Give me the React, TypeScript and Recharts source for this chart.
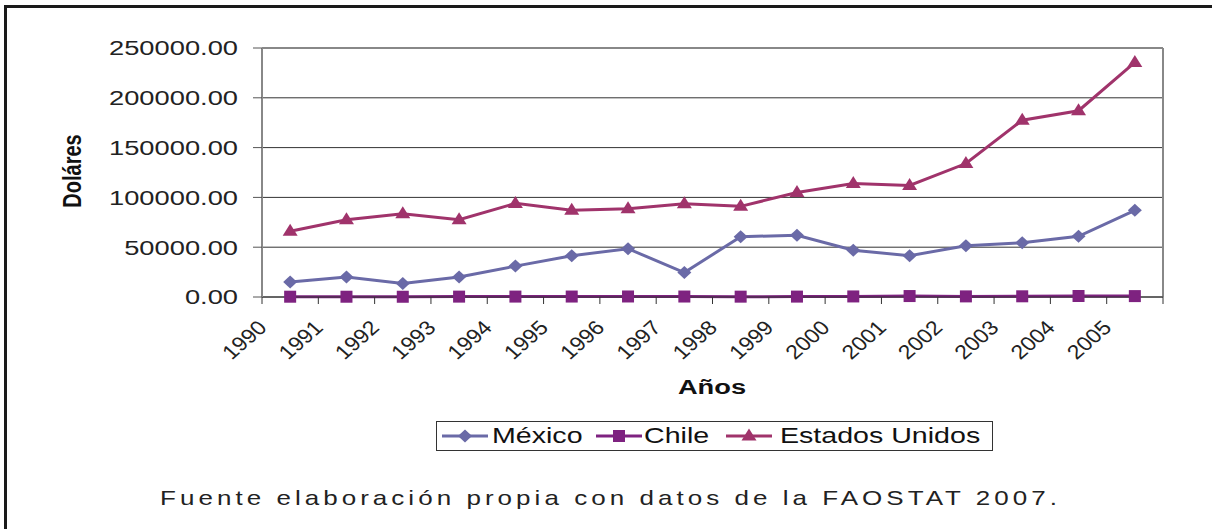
import React from "react";
import { LineChart, Line, XAxis, YAxis, CartesianGrid, ReferenceLine } from "recharts";

// years shown on the category axis
const years = ["1990", "1991", "1992", "1993", "1994", "1995", "1996", "1997", "1998", "1999", "2000", "2001", "2002", "2003", "2004", "2005"];

// dollars per country
const mexico = [15000, 20000, 13500, 20000, 31000, 41500, 48500, 24500, 60500, 62000, 47000, 41500, 51500, 54500, 61000, 87000];
const chile = [300, 280, 250, 380, 420, 460, 520, 480, 350, 400, 560, 950, 610, 700, 1000, 900];
const eeuu = [66000, 77500, 83500, 77500, 94000, 87000, 88500, 93500, 91000, 105000, 114000, 112000, 134000, 177500, 187000, 235500];

const yTicks = [0, 50000, 100000, 150000, 200000, 250000];

const COLORS = { mexico: "#6A6AA7", chile: "#7E2280", eeuu: "#A0336B" };
const FONT = "'Liberation Sans', Arial, sans-serif";

// points sit in the middle of each year slot, ticks on the slot edges
const data = years.map((year, i) => ({
    pos: i + 0.5,
    year,
    mexico: mexico[i],
    chile: chile[i],
    eeuu: eeuu[i],
}));
const xTicks = Array.from({ length: years.length + 1 }, (_, i) => i);

const legendItems = [
    { name: "México", color: COLORS.mexico, marker: "diamond", iconX: 442, textX: 492 },
    { name: "Chile", color: COLORS.chile, marker: "square", iconX: 596, textX: 644 },
    { name: "Estados Unidos", color: COLORS.eeuu, marker: "triangle", iconX: 726, textX: 780 },
];

function Marker({ type, cx, cy, color }: { type: string; cx: number; cy: number; color: string }) {
    if (type === "diamond") {
        return <polygon points={`${cx},${cy - 6.5} ${cx + 7},${cy} ${cx},${cy + 6.5} ${cx - 7},${cy}`} fill={color} />;
    }
    if (type === "square") {
        return <rect x={cx - 6} y={cy - 6} width={12} height={12} fill={color} />;
    }
    return <polygon points={`${cx},${cy - 7.5} ${cx + 7.5},${cy + 4.5} ${cx - 7.5},${cy + 4.5}`} fill={color} />;
}

const dotFor = (type: string, color: string) => (props: any) => (
    <Marker key={`${type}-${props.index}`} type={type} cx={props.cx} cy={props.cy} color={color} />
);

const YTick = ({ x, y, payload }: any) => (
    <text
        transform={`translate(${x},${y}) scale(1.3,1)`}
        textAnchor="end"
        dy="0.35em"
        fontSize={21}
        fontFamily={FONT}
        fill="#222"
    >
        {Number(payload.value).toFixed(2)}
    </text>
);

const XTick = ({ x, y, payload }: any) => {
    const label = years[payload.value];
    if (!label) return null;
    return (
        <text
            transform={`translate(${x + 6},${y + 23}) scale(1.15,1) rotate(-45)`}
            textAnchor="end"
            fontSize={20}
            fontFamily={FONT}
            fill="#222"
        >
            {label}
        </text>
    );
};

export default function App() {
    return (
        <div style={{ position: "absolute", left: 0, top: 0, width: 1212, height: 529, background: "#fff", overflow: "hidden" }}>
            <LineChart width={1212} height={529} data={data} margin={{ top: 48, right: 49, left: 0, bottom: 0 }}>
                <CartesianGrid vertical={false} stroke="#333" strokeWidth={1} />
                <XAxis
                    type="number"
                    dataKey="pos"
                    domain={[0, years.length]}
                    ticks={xTicks}
                    interval={0}
                    height={232}
                    tickSize={7}
                    tick={<XTick />}
                    tickLine={{ stroke: "#333" }}
                    axisLine={{ stroke: "#333" }}
                />
                <YAxis
                    domain={[0, 250000]}
                    ticks={yTicks}
                    width={262}
                    tickSize={9}
                    tickMargin={15}
                    tick={<YTick />}
                    tickLine={{ stroke: "#555" }}
                    axisLine={{ stroke: "#888", strokeWidth: 2 }}
                />
                <ReferenceLine y={250000} stroke="#888" strokeWidth={2} />
                <ReferenceLine x={years.length} stroke="#888" strokeWidth={2} />
                <Line type="linear" dataKey="mexico" stroke={COLORS.mexico} strokeWidth={3} dot={dotFor("diamond", COLORS.mexico)} isAnimationActive={false} />
                <Line type="linear" dataKey="chile" stroke={COLORS.chile} strokeWidth={3} dot={dotFor("square", COLORS.chile)} isAnimationActive={false} />
                <Line type="linear" dataKey="eeuu" stroke={COLORS.eeuu} strokeWidth={3} dot={dotFor("triangle", COLORS.eeuu)} isAnimationActive={false} />
            </LineChart>

            <svg width={1212} height={529} style={{ position: "absolute", left: 0, top: 0, pointerEvents: "none" }}>
                {/* outer frame */}
                <line x1={5.5} y1={5} x2={5.5} y2={529} stroke="#1a1a1a" strokeWidth={3} />
                <line x1={4} y1={6.5} x2={1212} y2={6.5} stroke="#1a1a1a" strokeWidth={3} />

                {/* axis titles */}
                <text transform="translate(72,171) scale(1.3,1) rotate(-90)" textAnchor="middle" dy="0.35em" fontSize={20} fontWeight="bold" fontFamily={FONT} fill="#111">
                    Doláres
                </text>
                <text transform="translate(712,394) scale(1.3,1)" textAnchor="middle" fontSize={21} fontWeight="bold" fontFamily={FONT} fill="#111">
                    Años
                </text>

                {/* legend */}
                <rect x={436.5} y={421.5} width={556} height={29} fill="#fff" stroke="#333" strokeWidth={1} />
                {legendItems.map((item) => (
                    <g key={item.name}>
                        <line x1={item.iconX} y1={436} x2={item.iconX + 46} y2={436} stroke={item.color} strokeWidth={3} />
                        <Marker type={item.marker} cx={item.iconX + 23} cy={436} color={item.color} />
                        <text transform={`translate(${item.textX},443) scale(1.3,1)`} fontSize={22} fontFamily={FONT} fill="#111">
                            {item.name}
                        </text>
                    </g>
                ))}

                {/* source note */}
                <text transform="translate(160,505) scale(1.3,1)" textLength={690} lengthAdjust="spacing" fontSize={20} fontFamily={FONT} fill="#222">
                    Fuente elaboración propia con datos de la FAOSTAT 2007.
                </text>
            </svg>
        </div>
    );
}
